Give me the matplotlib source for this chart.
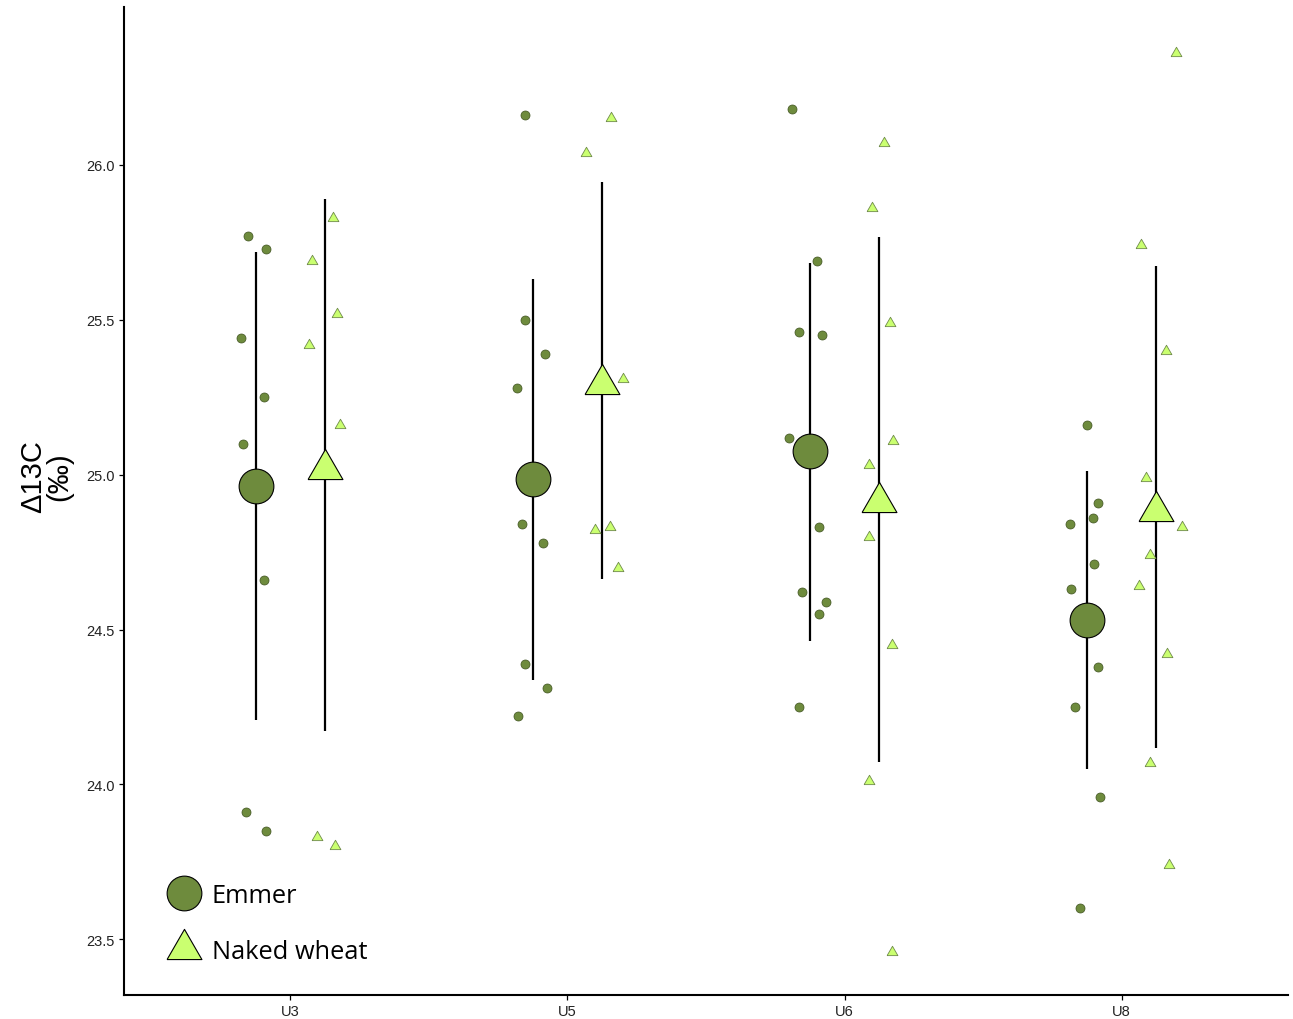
import matplotlib
matplotlib.use("Agg")
import matplotlib.pyplot as plt
from matplotlib.lines import Line2D

# ---------------- data ----------------
sites = ["U3", "U5", "U6", "U8"]
species = ["Emmer", "Naked wheat"]

emmer_vals = [
    [25.77, 25.73, 25.44, 25.25, 25.10, 24.66, 23.91, 23.85],
    [26.16, 25.50, 25.39, 25.28, 24.84, 24.78, 24.39, 24.31, 24.22],
    [26.18, 25.69, 25.46, 25.45, 25.12, 24.83, 24.62, 24.59, 24.55, 24.25],
    [25.16, 24.91, 24.86, 24.84, 24.71, 24.63, 24.38, 24.25, 23.96, 23.60],
]
emmer_jitter = [
    [-0.153, -0.089, -0.178, -0.095, -0.172, -0.095, -0.159, -0.089],
    [-0.152, -0.152, -0.081, -0.183, -0.164, -0.088, -0.152, -0.075, -0.177],
    [-0.189, -0.100, -0.164, -0.081, -0.202, -0.094, -0.152, -0.068, -0.094, -0.164],
    [-0.124, -0.086, -0.105, -0.188, -0.099, -0.182, -0.086, -0.170, -0.079, -0.151],
]
naked_vals = [
    [25.83, 25.69, 25.52, 25.42, 25.16, 23.83, 23.80],
    [26.15, 26.04, 25.31, 24.82, 24.83, 24.70],
    [26.07, 25.86, 25.49, 25.11, 25.03, 24.80, 24.45, 24.01, 23.46],
    [26.36, 25.74, 25.40, 24.99, 24.83, 24.74, 24.64, 24.42, 24.07, 23.74],
]
naked_jitter = [
    [0.154, 0.078, 0.167, 0.066, 0.181, 0.097, 0.161],
    [0.156, 0.066, 0.201, 0.099, 0.155, 0.183],
    [0.143, 0.100, 0.164, 0.176, 0.087, 0.087, 0.170, 0.087, 0.170],
    [0.196, 0.069, 0.158, 0.088, 0.216, 0.101, 0.062, 0.165, 0.101, 0.171],
]

emmer_mean = [24.963, 24.987, 25.075, 24.531]
emmer_lo = [24.209, 24.338, 24.464, 24.050]
emmer_hi = [25.719, 25.632, 25.685, 25.012]

naked_mean = [25.019, 25.293, 24.911, 24.882]
naked_lo = [24.174, 24.664, 24.072, 24.118]
naked_hi = [25.890, 25.946, 25.769, 25.673]

yticks = [23.5, 24.0, 24.5, 25.0, 25.5, 26.0]

# ---------------- style ----------------
emmer_col = "#6E8B3D"
naked_col = "#CAFF70"
dodge = 0.125

# equilateral triangle centred at its centroid
tri = [(-1.0, -0.5774), (1.0, -0.5774), (0.0, 1.1547), (-1.0, -0.5774)]

fig = plt.figure(figsize=(12.93, 10.20), dpi=100)
ax = fig.add_axes([124 / 1293, 24 / 1020, 1164 / 1293, 988 / 1020])

for i, s in enumerate(sites):
    # jittered raw points
    ax.scatter([i + j for j in emmer_jitter[i]], emmer_vals[i], s=6.5 ** 2,
               marker="o", facecolor=emmer_col, edgecolor="#3f5220",
               linewidth=0.5, zorder=3)
    ax.scatter([i + j for j in naked_jitter[i]], naked_vals[i], s=9.0 ** 2,
               marker=tri, facecolor=naked_col, edgecolor="#6f8a4a",
               linewidth=0.6, zorder=3)
    # ranges
    ax.plot([i - dodge, i - dodge], [emmer_lo[i], emmer_hi[i]],
            color="black", lw=1.6, zorder=2, solid_capstyle="butt")
    ax.plot([i + dodge, i + dodge], [naked_lo[i], naked_hi[i]],
            color="black", lw=1.6, zorder=2, solid_capstyle="butt")
    # means
    ax.plot(i - dodge, emmer_mean[i], marker="o", ms=25,
            mfc=emmer_col, mec="black", mew=0.8, zorder=4, linestyle="none")
    ax.plot(i + dodge, naked_mean[i], marker=tri, ms=29,
            mfc=naked_col, mec="black", mew=0.8, zorder=4, linestyle="none")

ax.set_xlim(-0.6, 3.6)
ax.set_ylim(23.32, 26.51)
ax.set_xticks(range(len(sites)))
ax.set_xticklabels(sites)
ax.set_yticks(yticks)
ax.set_yticklabels([f"{v:.1f}" for v in yticks])

for side in ["top", "right"]:
    ax.spines[side].set_visible(False)
for side in ["left", "bottom"]:
    ax.spines[side].set_linewidth(1.5)
    ax.spines[side].set_color("black")

ax.tick_params(axis="both", direction="out", length=3.5, width=0.9,
               colors="black", labelsize=10.5, labelcolor="#222222", pad=3)
for lab in ax.get_xticklabels() + ax.get_yticklabels():
    lab.set_family(["Liberation Sans", "DejaVu Sans"])

ax.set_ylabel("Δ13C\n(‰)", fontsize=21, family=["Liberation Sans", "DejaVu Sans"],
              linespacing=0.9)
ax.yaxis.set_label_coords(-0.044, 0.526)

handles = [
    Line2D([], [], marker="o", ms=25, mfc=emmer_col, mec="black", mew=0.8,
           linestyle="none"),
    Line2D([], [], marker=tri, ms=29, mfc=naked_col, mec="black", mew=0.8,
           linestyle="none"),
]
leg = ax.legend(handles, species, loc="lower left",
                bbox_to_anchor=(0.023, 0.019), frameon=False,
                prop={"family": ["Open Sans", "DejaVu Sans"], "size": 18.3},
                handletextpad=0.3, labelspacing=1.2, borderpad=0,
                handlelength=1.6)

fig.savefig("out.png", dpi=100, facecolor="white")
